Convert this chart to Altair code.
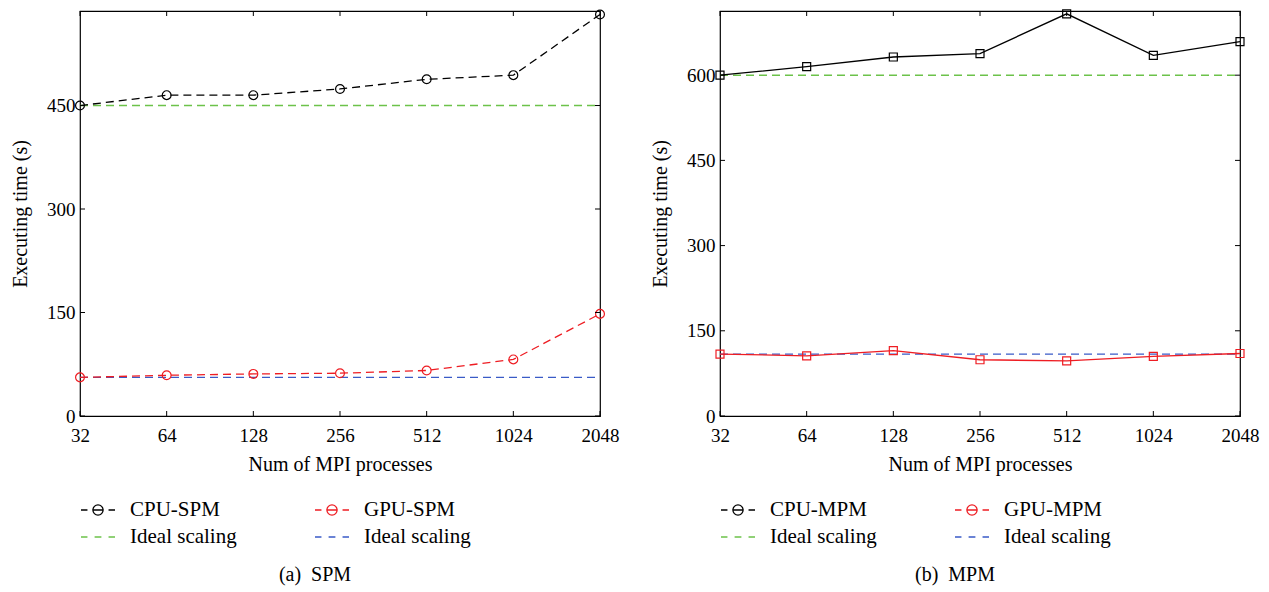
import altair as alt
import pandas as pd

# ---- data ----
procs = [32, 64, 128, 256, 512, 1024, 2048]

cpu_spm = [450, 465, 465, 474, 488, 494, 582]
gpu_spm = [56, 59, 61, 62, 66, 82, 148]
ideal_spm = [450, 56]          # ideal scaling for CPU, GPU

cpu_mpm = [600, 615, 632, 638, 708, 635, 659]
gpu_mpm = [109, 106, 115, 99, 97, 105, 110]
ideal_mpm = [600, 109]

yticks_spm = [0, 150, 300, 450]
yticks_mpm = [0, 150, 300, 450, 600]
ymax_spm = 587
ymax_mpm = 713

colors = ["#000000", "#ee1d23", "#6cc24a", "#3a5bc7"]

FONT = "Liberation Serif"
W, H = 520, 405

MARK_PATH = ("M-1,0L-0.62,0M-0.3,0L0.3,0M0.62,0L1,0"
             "M0.3,0A0.3,0.3 0 1,1 -0.3,0A0.3,0.3 0 1,1 0.3,0")
DASH_PATH = "M-1,0L-0.62,0M-0.2,0L0.2,0M0.62,0L1,0"


def panel(cpu, gpu, ideal, names, yticks, ymax, shape, msize, meas_dash, caption):
    series = [names[0], names[1], "Ideal-CPU", "Ideal-GPU"]
    meas = pd.DataFrame({
        "procs": procs * 2,
        "time": cpu + gpu,
        "series": [names[0]] * len(procs) + [names[1]] * len(procs),
    })
    ideal_df = pd.DataFrame({
        "procs": [procs[0], procs[-1]] * 2,
        "time": [ideal[0], ideal[0], ideal[1], ideal[1]],
        "series": ["Ideal-CPU"] * 2 + ["Ideal-GPU"] * 2,
    })
    xscale = alt.Scale(type="log", base=2, domain=[procs[0], procs[-1]])
    yscale = alt.Scale(domain=[0, ymax], nice=False, zero=True)
    cscale = alt.Scale(domain=series, range=colors)

    x_main = alt.X("procs:Q", scale=xscale,
                   axis=alt.Axis(values=procs, format="d", title="Num of MPI processes",
                                 ticks=False, domain=False, grid=False, labelPadding=10,
                                 titlePadding=9, labelFlush=False, labelOverlap=False))
    y_main = alt.Y("time:Q", scale=yscale,
                   axis=alt.Axis(values=yticks, title="Executing time (s)", ticks=False,
                                 domain=False, grid=False, labelPadding=5, titlePadding=16))
    x_plain = alt.X("procs:Q", scale=xscale)
    y_plain = alt.Y("time:Q", scale=yscale)
    col = alt.Color("series:N", scale=cscale)

    leg_kw = dict(title=None, orient="bottom", columns=2, symbolSize=1156,
                  symbolStrokeWidth=1.3, clipHeight=22, rowPadding=5, columnPadding=77,
                  labelOffset=14, labelFont=FONT, labelFontSize=21, labelColor="black",
                  labelLimit=0, offset=25,
                  labelExpr="indexof(datum.label, 'Ideal') == 0 ? 'Ideal scaling' : datum.label")
    legend_layer = alt.Chart(meas).mark_point(filled=False, opacity=1).encode(
        x=x_main, y=y_main,
        color=alt.Color("series:N", scale=cscale, legend=alt.Legend(**leg_kw)),
        shape=alt.Shape("series:N",
                        scale=alt.Scale(domain=series,
                                        range=[MARK_PATH, MARK_PATH, DASH_PATH, DASH_PATH]),
                        legend=alt.Legend(**leg_kw)),
    ).transform_filter("false")

    ideal_lines = alt.Chart(ideal_df).mark_line(strokeDash=[8, 5], strokeWidth=1.4).encode(
        x=x_plain, y=y_plain, color=col, detail="series:N")

    line_kw = {"strokeWidth": 1.3}
    if meas_dash:
        line_kw["strokeDash"] = meas_dash
    meas_lines = alt.Chart(meas).mark_line(**line_kw).encode(
        x=x_plain, y=y_plain, color=col, detail="series:N")
    meas_pts = alt.Chart(meas).mark_point(shape=shape, filled=False, size=msize,
                                          strokeWidth=1.2, opacity=1).encode(
        x=x_plain, y=y_plain, color=col)

    # inward tick marks on all four sides
    ty = pd.DataFrame({"t": yticks})
    tx = pd.DataFrame({"t": procs})
    ys = alt.Y("t:Q", scale=yscale)
    xs = alt.X("t:Q", scale=xscale)
    tick_l = alt.Chart(ty).mark_rule(color="black", strokeWidth=1).encode(
        y=ys, x=alt.value(0), x2=alt.value(5))
    tick_r = alt.Chart(ty).mark_rule(color="black", strokeWidth=1).encode(
        y=ys, x=alt.value(W - 5), x2=alt.value(W))
    tick_b = alt.Chart(tx).mark_rule(color="black", strokeWidth=1).encode(
        x=xs, y=alt.value(H - 5), y2=alt.value(H))
    tick_t = alt.Chart(tx).mark_rule(color="black", strokeWidth=1).encode(
        x=xs, y=alt.value(0), y2=alt.value(5))

    return alt.layer(
        legend_layer, ideal_lines, meas_lines, meas_pts, tick_l, tick_r, tick_b, tick_t
    ).properties(
        width=W, height=H,
        title=alt.TitleParams(caption, orient="bottom", anchor="middle", font=FONT,
                              fontSize=20, fontWeight="normal", color="black",
                              offset=17, dx=-25),
    )


left = panel(cpu_spm, gpu_spm, ideal_spm, ["CPU-SPM", "GPU-SPM"], yticks_spm, ymax_spm,
             "circle", 78, [8, 5], "(a)\u00a0 SPM")
right = panel(cpu_mpm, gpu_mpm, ideal_mpm, ["CPU-MPM", "GPU-MPM"], yticks_mpm, ymax_mpm,
              "square", 64, None, "(b)\u00a0 MPM")

chart = alt.hconcat(left, right, spacing=29).resolve_scale(
    color="independent", shape="independent", x="independent", y="independent"
).properties(
    padding={"left": 9, "top": 6, "right": 3, "bottom": 3},
    background="white",
).configure_axis(
    labelFont=FONT, labelFontSize=19, labelColor="black",
    titleFont=FONT, titleFontSize=20, titleFontWeight="normal", titleColor="black",
).configure_view(
    stroke="black", strokeWidth=1.2,
)

chart.save("out.html", embed_options={"renderer": "svg", "actions": False})
